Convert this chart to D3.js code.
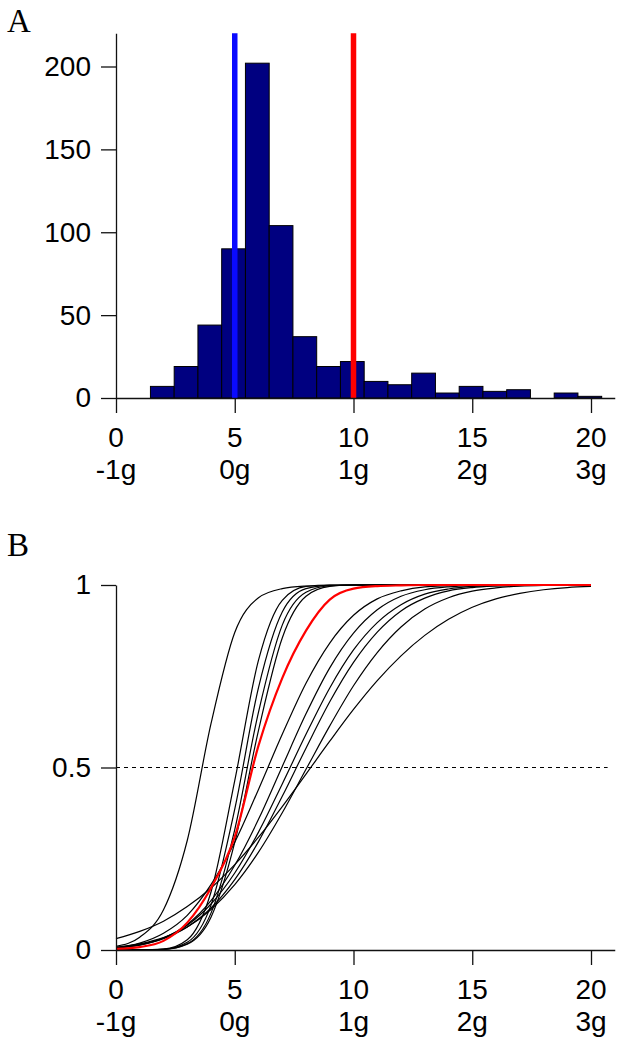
<!DOCTYPE html>
<html>
<head>
<meta charset="utf-8">
<script src="https://cdn.jsdelivr.net/npm/d3@7"></script>
<style>
  html, body { margin: 0; padding: 0; background: #fff; }
  svg { display: block; }
  .tick text { font-family: "Liberation Sans", Arial, sans-serif; }
</style>
</head>
<body>
<svg id="chart" width="622" height="1050"></svg>
<script>
// ---------- Panel A data (histogram) ----------
const binEdges = [1.45, 2.45, 3.45, 4.45, 5.45, 6.45, 7.45, 8.45, 9.45, 10.45,
                  11.45, 12.45, 13.45, 14.45, 15.45, 16.45, 17.45, 18.45, 19.45, 20.45];
const binCounts = [7, 19, 44, 90, 202, 104, 37, 19, 22, 10, 8, 15, 3, 7, 4, 5, 0, 3, 1];
const markerValues = [5, 10];
const markerColors = ["#0a0aff", "#ff0000"];
const yTicksA = [0, 50, 100, 150, 200];
const xTicks = [0, 5, 10, 15, 20];
const xTickLabels2 = ["-1g", "0g", "1g", "2g", "3g"];

// ---------- Panel B data (cumulative curves) ----------
const curveX = [0, 1, 2, 3, 4, 5, 6, 7, 8, 9, 10, 11, 12, 13, 14, 15, 16, 17, 18, 19, 20];
const curve1  = [0.010, 0.035, 0.110, 0.300, 0.620, 0.870, 0.965, 0.990, 0.997, 0.999, 1, 1, 1, 1, 1, 1, 1, 1, 1, 1, 1];
const curve2  = [0.000, 0.0001, 0.0024, 0.028, 0.159, 0.464, 0.794, 0.958, 0.996, 1, 1, 1, 1, 1, 1, 1, 1, 1, 1, 1, 1];
const curve3  = [0.000, 0.0001, 0.0019, 0.021, 0.123, 0.386, 0.719, 0.926, 0.990, 0.999, 1, 1, 1, 1, 1, 1, 1, 1, 1, 1, 1];
const curve4  = [0.000, 0.0001, 0.0016, 0.017, 0.101, 0.330, 0.652, 0.890, 0.980, 0.998, 1, 1, 1, 1, 1, 1, 1, 1, 1, 1, 1];
const curve5  = [0.000, 0.0001, 0.0016, 0.016, 0.090, 0.295, 0.602, 0.855, 0.969, 0.996, 1, 1, 1, 1, 1, 1, 1, 1, 1, 1, 1];
const curve6  = [0.007, 0.019, 0.046, 0.095, 0.179, 0.295, 0.440, 0.591, 0.731, 0.841, 0.917, 0.962, 0.984, 0.995, 0.998, 0.9995, 1, 1, 1, 1, 1];
const curve7  = [0.005, 0.013, 0.033, 0.070, 0.135, 0.232, 0.358, 0.503, 0.647, 0.773, 0.868, 0.932, 0.969, 0.987, 0.995, 0.9985, 0.9996, 1, 1, 1, 1];
const curve8  = [0.006, 0.015, 0.033, 0.068, 0.126, 0.211, 0.323, 0.455, 0.591, 0.718, 0.822, 0.897, 0.946, 0.975, 0.989, 0.996, 0.9986, 0.9996, 1, 1, 1];
const curve9  = [0.006, 0.014, 0.031, 0.063, 0.115, 0.193, 0.297, 0.421, 0.553, 0.680, 0.788, 0.871, 0.929, 0.964, 0.984, 0.993, 0.997, 0.999, 0.9997, 1, 1];
const curve10 = [0.007, 0.017, 0.034, 0.063, 0.111, 0.179, 0.268, 0.376, 0.495, 0.614, 0.724, 0.815, 0.885, 0.934, 0.965, 0.983, 0.992, 0.997, 0.999, 0.9996, 1];
const curve11 = [0.031, 0.051, 0.079, 0.119, 0.170, 0.234, 0.309, 0.393, 0.482, 0.572, 0.659, 0.738, 0.806, 0.862, 0.906, 0.939, 0.962, 0.977, 0.987, 0.993, 0.996];
const curveRed = [0.003, 0.008, 0.025, 0.075, 0.170, 0.310, 0.560, 0.745, 0.875, 0.960, 0.990, 0.997, 0.999, 1, 1, 1, 1, 1, 1, 1, 1];
const blackCurves = [curve1, curve2, curve3, curve4, curve5, curve6, curve7, curve8, curve9, curve10, curve11];
const yTicksB = [0, 0.5, 1];
const refLevel = 0.5;

// ---------- Drawing ----------
const svg = d3.select("#chart");
const FONT = '"Liberation Sans", Arial, sans-serif';
const TICK_FS = 28;

function styleAxis(g) {
  g.selectAll(".domain").attr("stroke", "#111").attr("stroke-width", 1.3);
  g.selectAll(".tick line").attr("stroke", "#111").attr("stroke-width", 1.3);
  g.selectAll(".tick text").attr("font-size", TICK_FS).attr("fill", "#000")
    .attr("font-family", FONT);
}

function xLabels(g, x, yBase) {
  xTicks.forEach((t, i) => {
    g.append("text").attr("x", x(t)).attr("y", yBase + 49)
      .attr("text-anchor", "middle").attr("font-family", FONT)
      .attr("font-size", TICK_FS).text(String(t));
    g.append("text").attr("x", x(t)).attr("y", yBase + 81)
      .attr("text-anchor", "middle").attr("font-family", FONT)
      .attr("font-size", TICK_FS).text(xTickLabels2[i]);
  });
}

// Panel A
const xA = d3.scaleLinear().domain([0, 21]).range([116, 116 + 21 * 23.75]);
const yA = d3.scaleLinear().domain([0, 220]).range([398, 398 - 220 * 1.6575]);
const gA = svg.append("g");

gA.selectAll("rect.bar").data(binCounts).join("rect")
  .attr("class", "bar")
  .attr("x", (d, i) => xA(binEdges[i]))
  .attr("width", (d, i) => xA(binEdges[i + 1]) - xA(binEdges[i]))
  .attr("y", d => yA(d))
  .attr("height", d => yA(0) - yA(d))
  .attr("fill", "#000080")
  .attr("stroke", "#000")
  .attr("stroke-width", 1)
  .attr("display", d => d > 0 ? null : "none");

gA.selectAll("line.marker").data(markerValues).join("line")
  .attr("class", "marker")
  .attr("x1", d => xA(d)).attr("x2", d => xA(d))
  .attr("y1", yA(220)).attr("y2", yA(0))
  .attr("stroke", (d, i) => markerColors[i])
  .attr("stroke-width", 5.5);

const yAxA = gA.append("g").attr("transform", `translate(${xA(0)},0)`)
  .call(d3.axisLeft(yA).tickValues(yTicksA).tickSize(15).tickSizeOuter(0).tickPadding(10));
styleAxis(yAxA);
const xAxA = gA.append("g").attr("transform", `translate(0,${yA(0)})`)
  .call(d3.axisBottom(xA).tickValues(xTicks).tickSize(15).tickSizeOuter(0).tickFormat(""));
styleAxis(xAxA);
xLabels(gA, xA, yA(0));

gA.append("text").attr("x", 7).attr("y", 32)
  .attr("font-family", '"Liberation Serif", "Times New Roman", serif')
  .attr("font-size", 33).text("A");

// Panel B
const xB = d3.scaleLinear().domain([0, 21]).range([116, 116 + 21 * 23.75]);
const yB = d3.scaleLinear().domain([0, 1]).range([950, 585]);
const gB = svg.append("g");

gB.append("line")
  .attr("x1", xB(0)).attr("x2", xB(20.7))
  .attr("y1", yB(refLevel)).attr("y2", yB(refLevel))
  .attr("stroke", "#000").attr("stroke-width", 1)
  .attr("stroke-dasharray", "4,4");

const lineGen = d3.line()
  .x((d, i) => xB(curveX[i]))
  .y(d => yB(d))
  .curve(d3.curveMonotoneX);

gB.selectAll("path.bc").data(blackCurves).join("path")
  .attr("class", "bc")
  .attr("d", lineGen)
  .attr("fill", "none")
  .attr("stroke", "#000")
  .attr("stroke-width", 1.2);

gB.append("path").datum(curveRed)
  .attr("d", lineGen)
  .attr("fill", "none")
  .attr("stroke", "#ff0000")
  .attr("stroke-width", 2.2);

const yAxB = gB.append("g").attr("transform", `translate(${xB(0)},0)`)
  .call(d3.axisLeft(yB).tickValues(yTicksB).tickSize(15).tickSizeOuter(0).tickPadding(10)
    .tickFormat(d => String(d)));
styleAxis(yAxB);
const xAxB = gB.append("g").attr("transform", `translate(0,${yB(0)})`)
  .call(d3.axisBottom(xB).tickValues(xTicks).tickSize(15).tickSizeOuter(0).tickFormat(""));
styleAxis(xAxB);
xLabels(gB, xB, yB(0));

gB.append("text").attr("x", 7).attr("y", 556)
  .attr("font-family", '"Liberation Serif", "Times New Roman", serif')
  .attr("font-size", 33).text("B");
</script>
</body>
</html>
